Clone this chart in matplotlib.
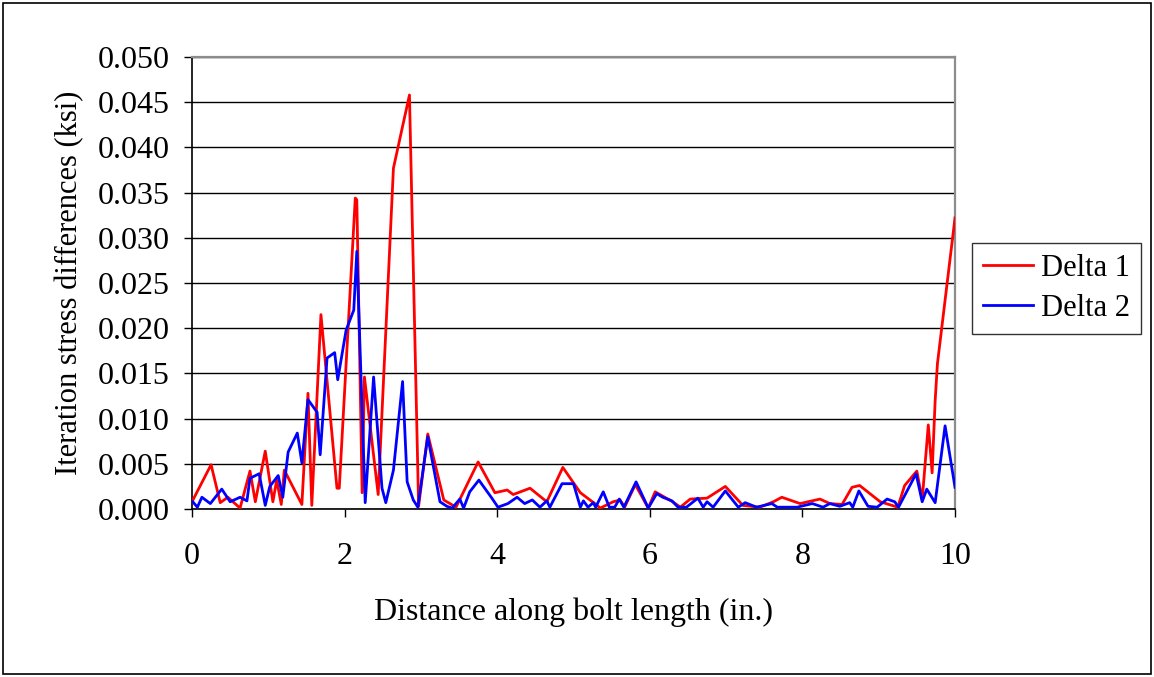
import matplotlib
matplotlib.use("Agg")
import matplotlib.pyplot as plt
from matplotlib.patches import Rectangle

x1 = [0.00, 0.25, 0.37, 0.47, 0.63, 0.76, 0.83, 0.96, 1.06, 1.11, 1.17, 1.21, 1.44, 1.52, 1.57,
      1.69, 1.90, 1.93, 2.14, 2.16, 2.23, 2.26, 2.44, 2.64, 2.85, 2.97, 3.09, 3.30, 3.42, 3.46,
      3.75, 3.97, 4.13, 4.21, 4.43, 4.65, 4.86, 5.09, 5.31, 5.35, 5.52, 5.61, 5.67, 5.81, 5.98,
      6.07, 6.30, 6.40, 6.53, 6.75, 6.99, 7.22, 7.44, 7.62, 7.73, 7.97, 8.23, 8.36, 8.52, 8.65,
      8.75, 9.02, 9.25, 9.34, 9.50, 9.57, 9.65, 9.70, 9.74, 9.77, 10.00]
delta1 = [0.0008, 0.0049, 0.0007, 0.0013, 0.0001, 0.0042, 0.0008, 0.0064, 0.0008, 0.0032, 0.0005,
          0.0043, 0.0005, 0.0128, 0.0004, 0.0215, 0.0023, 0.0023, 0.0344, 0.0342, 0.0018, 0.0146,
          0.0016, 0.0377, 0.0458, 0.0003, 0.0083, 0.0010, 0.0004, 0.0002, 0.0052, 0.0018, 0.0021,
          0.0016, 0.0023, 0.0008, 0.0046, 0.0018, 0.0004, 0.0001, 0.0008, 0.0010, 0.0002, 0.0027,
          0.0001, 0.0019, 0.0008, 0.0002, 0.0011, 0.0012, 0.0025, 0.0004, 0.0002, 0.0008, 0.0013,
          0.0006, 0.0011, 0.0006, 0.0005, 0.0024, 0.0026, 0.0008, 0.0002, 0.0026, 0.0042, 0.0010,
          0.0093, 0.0040, 0.0120, 0.0161, 0.0322]

x2 = [0.01, 0.07, 0.13, 0.24, 0.39, 0.50, 0.63, 0.72, 0.76, 0.88, 0.96, 1.02, 1.13, 1.19, 1.26,
      1.38, 1.44, 1.52, 1.64, 1.68, 1.77, 1.87, 1.91, 2.02, 2.12, 2.16, 2.27, 2.38, 2.49, 2.54,
      2.64, 2.76, 2.82, 2.90, 2.96, 3.09, 3.25, 3.34, 3.41, 3.51, 3.56, 3.64, 3.76, 3.93, 4.01,
      4.14, 4.26, 4.36, 4.46, 4.56, 4.65, 4.69, 4.85, 5.00, 5.09, 5.13, 5.19, 5.26, 5.29, 5.39,
      5.47, 5.54, 5.60, 5.66, 5.82, 5.98, 6.09, 6.17, 6.29, 6.37, 6.48, 6.63, 6.70, 6.75, 6.83,
      6.99, 7.16, 7.25, 7.40, 7.60, 7.67, 7.71, 7.93, 8.13, 8.27, 8.36, 8.49, 8.62, 8.66, 8.74,
      8.86, 8.98, 9.11, 9.21, 9.26, 9.49, 9.57, 9.63, 9.74, 9.87, 10.00]
delta2 = [0.0008, 0.0002, 0.0013, 0.0006, 0.0022, 0.0008, 0.0013, 0.0009, 0.0034, 0.0039, 0.0004,
          0.0025, 0.0037, 0.0013, 0.0063, 0.0084, 0.0051, 0.0121, 0.0107, 0.0060, 0.0167, 0.0173,
          0.0143, 0.0198, 0.0220, 0.0285, 0.0007, 0.0146, 0.0023, 0.0007, 0.0043, 0.0141, 0.0030,
          0.0010, 0.0002, 0.0080, 0.0008, 0.0003, 0.0001, 0.0011, 0.0001, 0.0019, 0.0032, 0.0012,
          0.0002, 0.0006, 0.0013, 0.0006, 0.0010, 0.0002, 0.0009, 0.0002, 0.0028, 0.0028, 0.0002,
          0.0009, 0.0002, 0.0007, 0.0002, 0.0019, 0.0002, 0.0002, 0.0011, 0.0002, 0.0030, 0.0001,
          0.0017, 0.0013, 0.0009, 0.0002, 0.0002, 0.0012, 0.0002, 0.0008, 0.0002, 0.0020, 0.0002,
          0.0007, 0.0002, 0.0006, 0.0002, 0.0002, 0.0002, 0.0006, 0.0002, 0.0006, 0.0003, 0.0007,
          0.0002, 0.0020, 0.0003, 0.0002, 0.0011, 0.0008, 0.0002, 0.0039, 0.0008, 0.0022, 0.0007,
          0.0092, 0.0024]

xticks = [0, 2, 4, 6, 8, 10]
yticks = [0.000, 0.005, 0.010, 0.015, 0.020, 0.025, 0.030, 0.035, 0.040, 0.045, 0.050]

plt.rcParams['font.family'] = ['Liberation Serif', 'DejaVu Serif']

W, H = 1154, 677
FS = 23
fig = plt.figure(figsize=(W / 100, H / 100), dpi=100)
ax = fig.add_axes([192 / W, 1 - 509 / H, (955 - 192) / W, (509 - 57) / H])

ax.plot(x1, delta1, color='#ff0000', lw=2.0, label='Delta 1', zorder=3, solid_joinstyle='round')
ax.plot(x2, delta2, color='#0000ff', lw=2.0, label='Delta 2', zorder=4, solid_joinstyle='round')

ax.set_xlim(0, 10)
ax.set_ylim(0, 0.05)
ax.set_xticks(xticks)
ax.set_yticks(yticks)
ax.set_yticklabels([f"{v:.3f}" for v in yticks])
ax.tick_params(axis='both', direction='out', length=6, width=1, labelsize=FS, color='black')
ax.tick_params(axis='x', pad=18)
ax.tick_params(axis='y', pad=10)
ax.yaxis.grid(True, color='black', lw=1)
ax.set_axisbelow(True)
for s in ax.spines.values():
    s.set_color('#8c8c8c')
    s.set_linewidth(1.6)
ax.spines['left'].set_color('black')
ax.spines['left'].set_linewidth(1.2)
ax.spines['bottom'].set_color('black')
ax.spines['bottom'].set_linewidth(1.2)

ax.set_xlabel('Distance along bolt length (in.)', fontsize=FS, labelpad=19)
ax.set_ylabel('Iteration stress differences (ksi)', fontsize=22, labelpad=10)

leg = ax.legend(loc='upper left', bbox_to_anchor=((972 - 192) / (955 - 192), (509 - 243) / (509 - 57)),
                fontsize=22, frameon=True, fancybox=False, borderaxespad=0,
                handlelength=1.65, handletextpad=0.25, labelspacing=0.36, borderpad=0.36)
leg.get_frame().set_edgecolor('black')
leg.get_frame().set_linewidth(1)

fig.patches.append(Rectangle((3 / W, 3 / H), 1 - 6 / W, 1 - 6 / H, transform=fig.transFigure,
                             fill=False, edgecolor='black', lw=1.2))

fig.savefig('out.png', dpi=100)
